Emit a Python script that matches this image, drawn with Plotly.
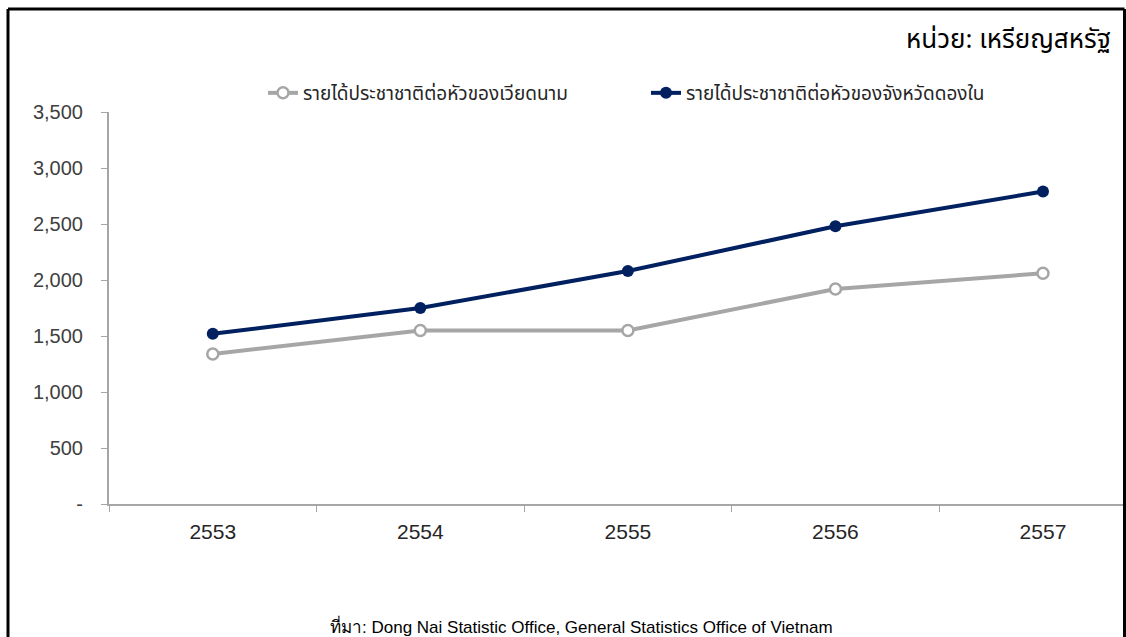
import plotly.graph_objects as go

# Years (Thai Buddhist calendar) and per-capita income, USD
years = ["2553", "2554", "2555", "2556", "2557"]
vietnam_income = [1340, 1550, 1550, 1920, 2060]
dongnai_income = [1520, 1750, 2080, 2480, 2790]

vietnam_name = "รายได้ประชาชาติต่อหัวของเวียดนาม"
dongnai_name = "รายได้ประชาชาติต่อหัวของจังหวัดดองใน"

y_tick_values = [0, 500, 1000, 1500, 2000, 2500, 3000, 3500]
y_tick_labels = ["-", "500", "1,000", "1,500", "2,000", "2,500", "3,000", "3,500"]

GRAY = "#a6a6a6"
NAVY = "#002060"
AXIS = "#a6a6a6"
THAI_FONT = "Tahoma, 'Noto Sans Thai', 'Loma', 'Garuda', sans-serif"

W, H = 1126, 637
ML, MR, MT, MB = 109, 0, 112, 133
PW, PH = W - ML - MR, H - MT - MB


def px_x(x):
    return (x - ML) / PW


def px_y(y):
    return (H - MB - y) / PH


fig = go.Figure()

fig.add_trace(go.Scatter(
    x=years, y=vietnam_income, name=vietnam_name, mode="lines+markers",
    line=dict(color=GRAY, width=4),
    marker=dict(symbol="circle", size=11, color="white",
                line=dict(color=GRAY, width=2.5)),
))
fig.add_trace(go.Scatter(
    x=years, y=dongnai_income, name=dongnai_name, mode="lines+markers",
    line=dict(color=NAVY, width=4),
    marker=dict(symbol="circle", size=12, color=NAVY),
))

fig.update_layout(
    width=W, height=H,
    margin=dict(l=ML, r=MR, t=MT, b=MB, pad=0, autoexpand=False),
    paper_bgcolor="white", plot_bgcolor="white",
    showlegend=True,
    legend=dict(
        orientation="h", x=px_x(263), y=px_y(93),
        xanchor="left", yanchor="middle",
        entrywidth=338, entrywidthmode="pixels",
        font=dict(family=THAI_FONT, size=19, color="#262626"),
        bgcolor="rgba(0,0,0,0)", itemwidth=30,
    ),
    xaxis=dict(
        type="category", range=[-0.5, 4.4],
        showgrid=False, zeroline=False,
        showline=True, linecolor=AXIS, linewidth=2,
        ticks="outside", tickson="boundaries", ticklen=6, tickcolor=AXIS, tickwidth=1,
        tickfont=dict(family="'Liberation Sans', Arial", size=21, color="#262626"),
        ticklabelstandoff=8,
    ),
    yaxis=dict(
        range=[0, 3500], tickvals=y_tick_values, ticktext=y_tick_labels,
        showgrid=False, zeroline=False,
        showline=True, linecolor=AXIS, linewidth=2,
        ticks="outside", ticklen=6, tickcolor=AXIS, tickwidth=1,
        tickfont=dict(family="'Liberation Sans', Arial", size=20, color="#404040"),
        ticklabelstandoff=14,
    ),
    annotations=[
        dict(text="หน่วย: เหรียญสหรัฐ", xref="paper", yref="paper",
             x=px_x(1113), y=px_y(40),
             xanchor="right", yanchor="middle", showarrow=False,
             font=dict(family=THAI_FONT, size=26, color="black")),
        dict(text="ที่มา: Dong Nai Statistic Office, General Statistics Office of Vietnam",
             xref="paper", yref="paper",
             x=px_x(581), y=px_y(626),
             xanchor="center", yanchor="middle", showarrow=False,
             font=dict(family="'Liberation Sans', Arial", size=17, color="black")),
    ],
    shapes=[
        # frame lines around the chart
        dict(type="line", xref="paper", yref="paper",
             x0=px_x(8), x1=px_x(8), y0=px_y(9), y1=px_y(640),
             line=dict(color="black", width=3)),
        dict(type="line", xref="paper", yref="paper",
             x0=px_x(8), x1=px_x(1124.5), y0=px_y(9), y1=px_y(9),
             line=dict(color="black", width=3)),
        dict(type="line", xref="paper", yref="paper",
             x0=px_x(1124.5), x1=px_x(1124.5), y0=px_y(9), y1=px_y(640),
             line=dict(color="black", width=3)),
    ],
)

fig.write_html("out.html")
